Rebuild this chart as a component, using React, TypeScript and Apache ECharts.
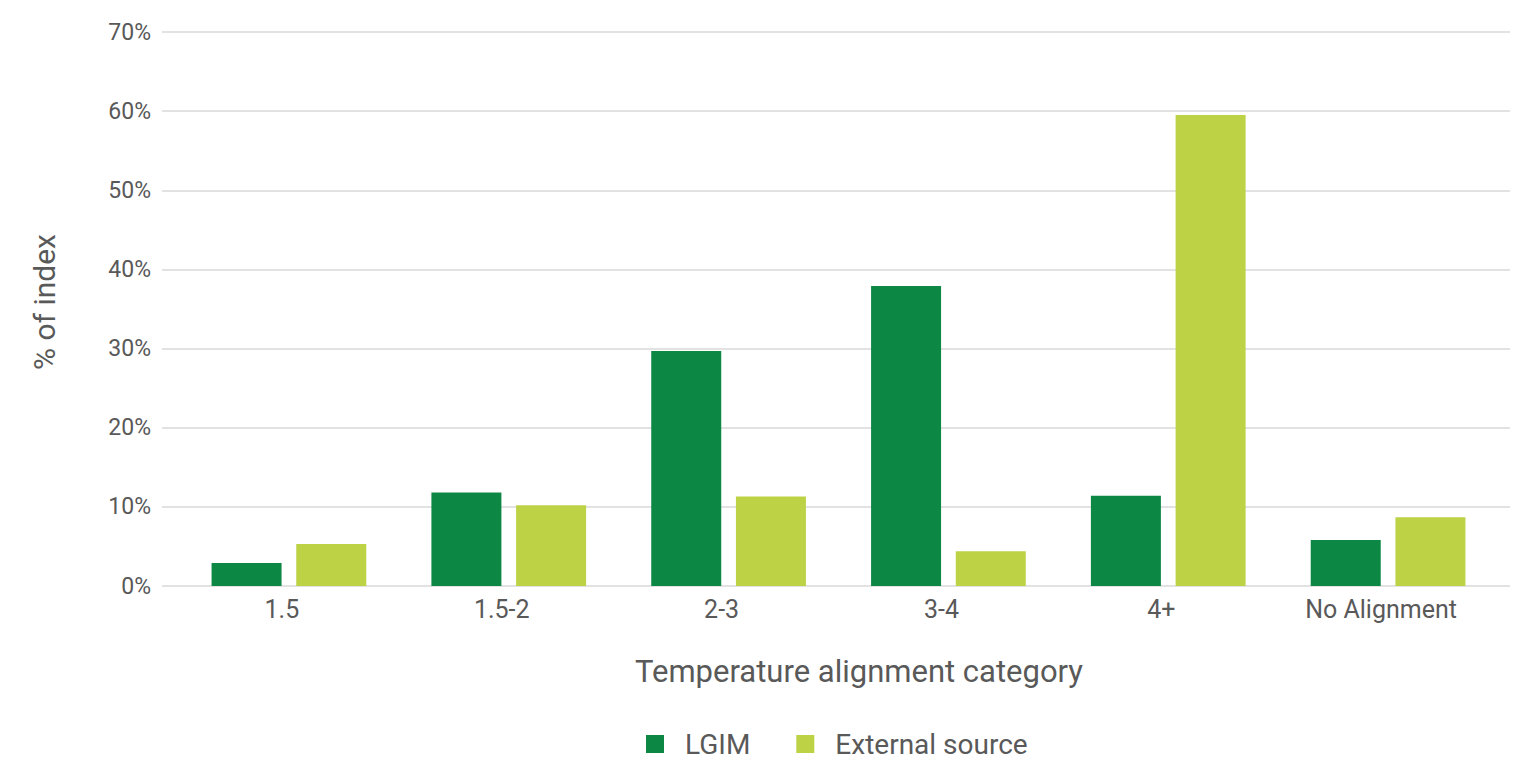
import React, { useEffect, useRef } from "react";
import * as echarts from "echarts";

// Temperature alignment categories and share of index per source (%)
const categories = ["1.5", "1.5-2", "2-3", "3-4", "4+", "No Alignment"];
const lgimValues = [2.9, 11.8, 29.7, 37.9, 11.4, 5.8];
const externalValues = [5.3, 10.2, 11.3, 4.4, 59.5, 8.7];
const seriesNames = ["LGIM", "External source"];
const yTicks = { min: 0, max: 70, interval: 10 };

const TEXT = "#595959";
const GRID_LINE = "#D9D9D9";
const FONT = "Roboto";

export default function App() {
  const ref = useRef<HTMLDivElement>(null);

  useEffect(() => {
    if (!ref.current) return;
    const chart = echarts.init(ref.current, undefined, { renderer: "svg" });

    chart.setOption({
      animation: false,
      backgroundColor: "#ffffff",
      textStyle: { fontFamily: FONT },
      grid: [
        // value scale with gridlines
        { left: 162, right: 10, top: 32, bottom: 175 },
        // bars and category labels
        { left: 179, right: 22, top: 32, bottom: 175 },
      ],
      xAxis: [
        { gridIndex: 0, type: "value", show: false, min: 0, max: 1 },
        {
          gridIndex: 1,
          type: "category",
          data: categories,
          axisLine: { show: false },
          axisTick: { show: false },
          axisLabel: {
            color: TEXT,
            fontSize: 25,
            fontFamily: FONT,
            margin: 11,
            padding: [0, 14, 0, 0],
            interval: 0,
          },
        },
      ],
      yAxis: [
        {
          gridIndex: 0,
          type: "value",
          min: yTicks.min,
          max: yTicks.max,
          interval: yTicks.interval,
          axisLine: { show: false },
          axisTick: { show: false },
          axisLabel: {
            color: TEXT,
            fontSize: 23,
            fontFamily: FONT,
            margin: 11,
            formatter: "{value}%",
          },
          splitLine: { lineStyle: { color: GRID_LINE, width: 1.5 } },
        },
        {
          gridIndex: 1,
          type: "value",
          min: yTicks.min,
          max: yTicks.max,
          interval: yTicks.interval,
          show: false,
          splitLine: { show: false },
        },
      ],
      legend: {
        data: seriesNames,
        left: 646,
        top: 730,
        padding: 0,
        icon: "rect",
        itemWidth: 18,
        itemHeight: 18,
        itemGap: 46,
        textStyle: {
          color: TEXT,
          fontSize: 28,
          lineHeight: 28,
          fontFamily: FONT,
          padding: [0, 0, 0, 16],
        },
      },
      graphic: [
        {
          type: "text",
          x: 859,
          y: 671,
          style: {
            text: "Temperature alignment category",
            fill: TEXT,
            font: `31px ${FONT}`,
            textAlign: "center",
            textVerticalAlign: "middle",
          },
        },
        {
          type: "text",
          x: 44,
          y: 302,
          rotation: Math.PI / 2,
          style: {
            text: "% of index",
            fill: TEXT,
            font: `30px ${FONT}`,
            textAlign: "center",
            textVerticalAlign: "middle",
          },
        },
      ],
      series: [
        {
          name: seriesNames[0],
          type: "bar",
          xAxisIndex: 1,
          yAxisIndex: 1,
          data: lgimValues,
          barWidth: 70,
          barGap: "21%",
          itemStyle: { color: "#0D8744" },
        },
        {
          name: seriesNames[1],
          type: "bar",
          xAxisIndex: 1,
          yAxisIndex: 1,
          data: externalValues,
          barWidth: 70,
          barGap: "21%",
          itemStyle: { color: "#BDD245" },
        },
      ],
    });

    return () => chart.dispose();
  }, []);

  return (
    <div
      ref={ref}
      style={{ width: 1520, height: 761, position: "absolute", left: 0, top: 0 }}
    />
  );
}
